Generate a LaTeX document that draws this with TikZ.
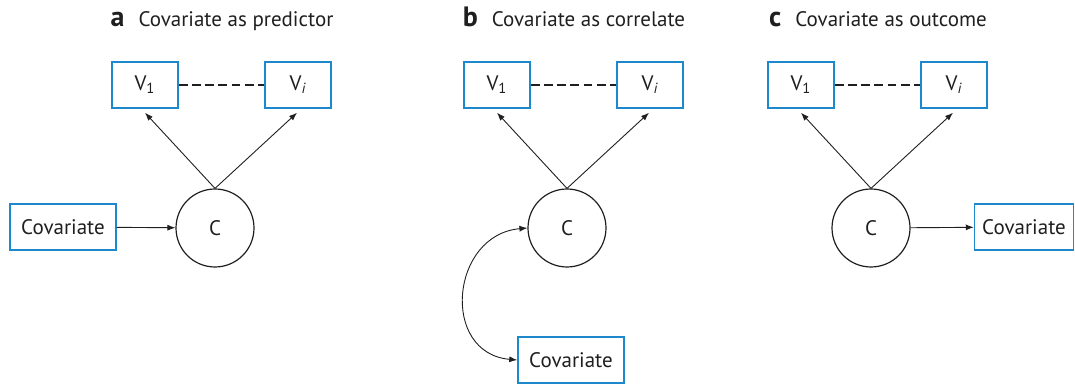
\documentclass[tikz,border=0pt]{standalone}
\usepackage{fontspec}
\setmainfont{PT Sans}
\usetikzlibrary{arrows.meta}

\begin{document}
\begin{tikzpicture}[x=0.5pt,y=-0.5pt,line cap=butt]
  % Colors
  \definecolor{boxblue}{RGB}{30,136,204}
  \colorlet{inkcolor}{black!88}

  % Styles
  \tikzstyle{var box}=[draw=boxblue,line width=0.75pt,minimum width=33pt,minimum height=23pt,
    inner sep=0pt,text=inkcolor,font=\fontsize{10.5}{12}\selectfont]
  \tikzstyle{cov box}=[var box,minimum width=53pt]
  \tikzstyle{latent}=[circle,draw=inkcolor,line width=0.6pt,minimum size=39pt,inner sep=0pt,
    text=inkcolor,font=\fontsize{10.5}{12}\selectfont]
  \tikzstyle{panel title}=[anchor=base,text=inkcolor,font=\fontsize{10.5}{12}\selectfont]
  \tikzstyle{effect}=[draw=inkcolor,line width=0.45pt,-{Latex[length=4pt,width=3pt]}]
  \tikzstyle{covary}=[effect,{Latex[length=4pt,width=3pt]}-{Latex[length=4pt,width=3pt]}]
  \tikzstyle{link}=[draw=inkcolor,line width=0.9pt,dash pattern=on 4.4pt off 2.2pt]

  \useasboundingbox (0,0) rectangle (1075,384);

  % The three panels
  \foreach \x/\p/\kind in {0/a/predictor,352/b/correlate,656/c/outcome}
  {
    \node[panel title] (title\p) at (\x+222,27)
      {{\fontsize{14}{14}\selectfont\bfseries \p}\hspace{7pt}Covariate as \kind};
    \node[var box] (vone\p) at (\x+145,85) {V\textsubscript{1}};
    \node[var box] (vi\p) at (\x+298,85) {V\textsubscript{\itshape i}};
    \node[latent] (c\p) at (\x+215,228) {C};
    \draw[link] (vone\p) -- (vi\p);
    \draw[effect] (c\p.north) -- ([yshift=-2pt]vone\p.south);
    \draw[effect] (c\p.north) -- ([yshift=-2pt,xshift=-0.5pt]vi\p.south);
  }

  % Covariates
  \node[cov box] (cova) at (63,227) {Covariate};
  \node[cov box] (covb) at (571,360) {Covariate};
  \node[cov box,minimum width=49.5pt] (covc) at (1024,227) {Covariate};

  \draw[effect] (cova) -- (ca);
  \draw[covary] (cb.west) to[out=185,in=175,looseness=1.5] (covb.west);
  \draw[effect] (cc) -- (covc);
\end{tikzpicture}
\end{document}
